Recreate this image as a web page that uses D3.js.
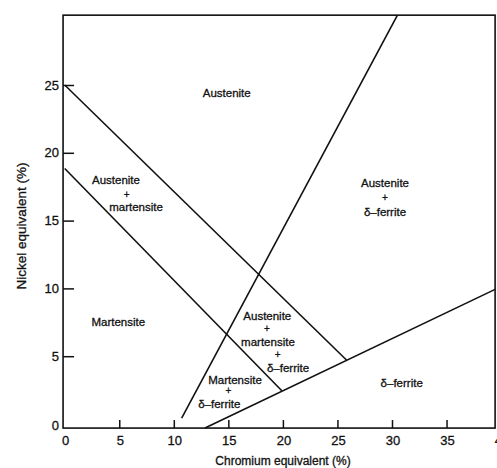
<!DOCTYPE html>
<html>
<head>
<meta charset="utf-8">
<script src="https://cdn.jsdelivr.net/npm/d3@7"></script>
<style>
  html, body { margin: 0; padding: 0; background: #fff; }
  svg { display: block; }
  text { fill: #111; stroke: #111; stroke-width: 0.3px; font-family: "Liberation Sans", Arial, sans-serif; }
</style>
</head>
<body>
<svg id="chart" width="497" height="468"></svg>
<script>
// ---- data ----
const xTicks = [5, 10, 15, 20, 25, 30, 35, 40];
const yTicks = [5, 10, 15, 20, 25];
const xTickLabels = ["0", "5", "10", "15", "20", "25", "30", "35", "40"];
const yTickLabels = ["0", "5", "10", "15", "20", "25"];

// boundary lines (Cr eq, Ni eq)
const lineUpper = [[0, 25], [25.85, 4.7]];
const lineLower = [[0, 18.84], [19.9, 2.45]];
const lineSteep = [[10.72, 0.44], [30.5, 30.15]];
const lineFerrite = [[12.86, -0.3], [39.45, 9.93]];

// region labels: text, Cr eq, Ni eq
const labelText = [
  "Austenite",
  "Austenite", "+", "martensite",
  "Martensite",
  "Austenite", "+", "martensite", "+", "δ\u2013ferrite",
  "Martensite", "+", "δ\u2013ferrite",
  "δ\u2013ferrite",
  "Austenite", "+", "δ\u2013ferrite"
];
const labelCr = [
  14.85,
  4.70, 5.68, 6.54,
  4.91,
  18.57, 18.54, 18.63, 19.52, 20.47,
  15.61, 15.0, 14.17,
  30.89,
  29.36, 29.36, 29.36
];
const labelNi = [
  24.39,
  17.99, 16.89, 16.03,
  7.54,
  7.96, 7.01, 6.07, 5.09, 4.15,
  3.24, 2.45, 1.45,
  3.0,
  17.8, 16.72, 15.63
];

const xTitle = "Chromium equivalent (%)";
const yTitle = "Nickel equivalent (%)";

// ---- scales ----
const x = d3.scaleLinear().domain([0, 40]).range([64.7, 501.1]);
const y = d3.scaleLinear().domain([0, 25]).range([424, 85]);
const xMin = -0.15, xMax = 39.45, yMin = -0.3, yMax = 30.15;

const svg = d3.select("#chart");
const ink = "#111";

// frame
svg.append("rect")
  .attr("x", x(xMin)).attr("y", y(yMax))
  .attr("width", x(xMax) - x(xMin)).attr("height", y(yMin) - y(yMax))
  .attr("fill", "none").attr("stroke", ink).attr("stroke-width", 1.6);

// x ticks (inward, upward)
const xAxis = d3.axisTop(x).tickValues(xTicks.filter(d => d <= xMax)).tickSize(8).tickFormat("");
svg.append("g").attr("transform", `translate(0,${y(yMin)})`).call(xAxis)
  .call(g => g.select(".domain").remove())
  .call(g => g.selectAll("line").attr("stroke", ink).attr("stroke-width", 1.5));

// y ticks (inward, rightward)
const yAxis = d3.axisRight(y).tickValues(yTicks).tickSize(11).tickFormat("");
svg.append("g").attr("transform", `translate(${x(xMin)},0)`).call(yAxis)
  .call(g => g.select(".domain").remove())
  .call(g => g.selectAll("line").attr("stroke", ink).attr("stroke-width", 1.5));

// tick labels
svg.append("g").selectAll("text").data(xTickLabels).join("text")
  .attr("x", d => x(+d) + 1)
  .attr("y", 445)
  .attr("text-anchor", "middle")
  .attr("font-size", 13)
  .text(d => d);

svg.append("g").selectAll("text").data(yTickLabels).join("text")
  .attr("x", 59)
  .attr("y", d => (+d === 0 ? y(0) + 1 : y(+d)) + 4.5)
  .attr("text-anchor", "end")
  .attr("font-size", 13)
  .text(d => d);

// boundary lines
const lineGen = d3.line().x(d => x(d[0])).y(d => y(d[1]));
svg.append("g").selectAll("path")
  .data([lineUpper, lineLower, lineSteep, lineFerrite]).join("path")
  .attr("d", lineGen)
  .attr("fill", "none").attr("stroke", ink).attr("stroke-width", 1.6);

// region labels
svg.append("g").selectAll("text").data(labelText).join("text")
  .attr("x", (d, i) => x(labelCr[i]))
  .attr("y", (d, i) => y(labelNi[i]))
  .attr("dy", "0.35em")
  .attr("text-anchor", "middle")
  .attr("font-size", d => d === "+" ? 10 : 11.5)
  .text(d => d);

// axis titles
svg.append("text")
  .attr("x", 283).attr("y", 465)
  .attr("text-anchor", "middle")
  .attr("font-size", 12)
  .text(xTitle);

svg.append("text")
  .attr("transform", `translate(26,${226}) rotate(-90)`)
  .attr("text-anchor", "middle")
  .attr("font-size", 13.5)
  .text(yTitle);
</script>
</body>
</html>
